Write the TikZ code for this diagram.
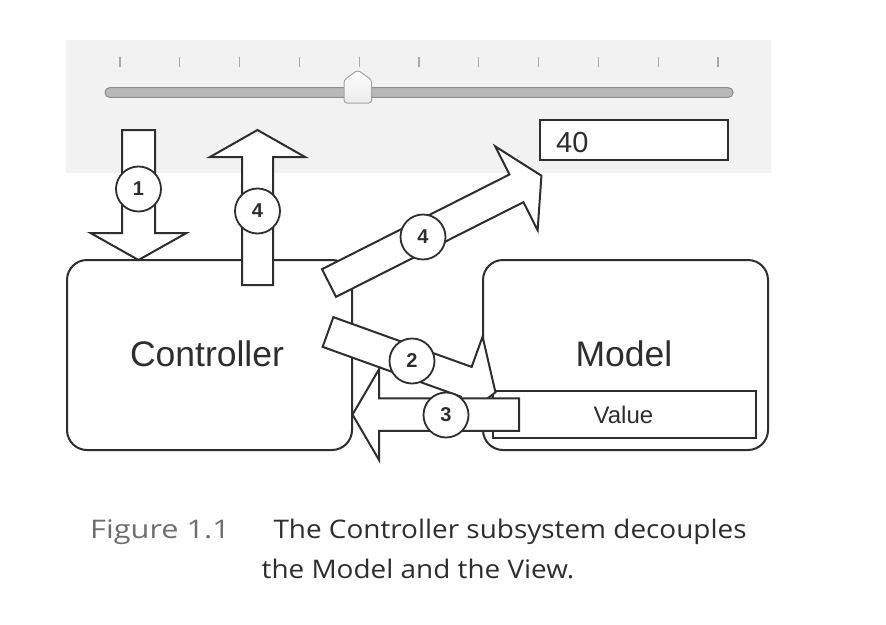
\documentclass[tikz,border=0pt]{standalone}
\usepackage{fontspec}
\setmainfont{Liberation Sans}
\newfontfamily\capfont[FakeStretch=1.09]{Open Sans}
\newfontfamily\figfont[FakeStretch=1.2]{Open Sans}
\definecolor{ink}{HTML}{2E2E2E}
\definecolor{panel}{HTML}{F2F2F2}
\definecolor{tick}{HTML}{A8A8A8}
\definecolor{trackfill}{HTML}{B9B9B9}
\definecolor{trackline}{HTML}{8C8C8C}
\definecolor{figgray}{HTML}{6E6E6E}
\tikzset{
  arrowsty/.style={draw=ink, line width=2pt, fill=white, line join=miter},
  boxsty/.style={draw=ink, line width=2pt, fill=white, rounded corners=20pt, inner sep=0pt},
  numc/.style={circle, draw=ink, line width=1.8pt, fill=white, minimum size=45pt, inner sep=0pt, font=\fontsize{20}{22}\selectfont\bfseries, text=ink},
  bigtxt/.style={font=\fontsize{35.5}{40}\selectfont, text=ink, inner sep=0pt, anchor=base},
}
\newcommand{\blockarr}[7]{%
  \begin{scope}[shift={(#1,#2)}, rotate=#3]
    \draw[arrowsty] (0,-#6) -- ({#4-#5},-#6) -- ({#4-#5},-#7) -- (#4,0) -- ({#4-#5},#7) -- ({#4-#5},#6) -- (0,#6) -- cycle;
  \end{scope}}
\begin{document}
\begin{tikzpicture}[x=1pt,y=-1pt]
\useasboundingbox (0,0) rectangle (886,624);
\fill[white] (0,0) rectangle (886,624);
% view panel
\fill[panel] (66,40) rectangle (771,173);
\foreach \i in {0,...,10} {
  \draw[tick, line width=1.3pt] ({120+59.8*\i},57) -- ({120+59.8*\i},67);
}
\draw[trackline, fill=trackfill, line width=1pt, rounded corners=4.5pt] (105,87.7) rectangle (733,97.3);
\draw[trackline!80, line width=1pt, top color=white, bottom color=black!8, rounded corners=3pt]
  (344,80) -- (357.7,70) -- (371.7,80) -- (371.7,103) -- (344,103) -- cycle;
\node[draw=ink, line width=2pt, fill=white, minimum width=188pt, minimum height=40pt, inner sep=0pt] (field) at (634,140) {};
\node[font=\fontsize{29}{32}\selectfont, text=ink, inner sep=0pt, anchor=base west] (fieldtxt) at (556,152.7) {40};
% boxes
\node[boxsty, minimum width=285pt, minimum height=190pt] (ctrl) at (209.5,355) {};
\node[boxsty, minimum width=285pt, minimum height=190pt] (model) at (625.5,355) {};
\node[draw=ink, line width=2pt, fill=white, minimum width=263pt, minimum height=47.5pt, inner sep=0pt] (value) at (624.5,414.5) {};
\node[bigtxt] (ctrltxt) at (207,366) {Controller};
\node[bigtxt] (modeltxt) at (624,366) {Model};
\node[font=\fontsize{24}{26}\selectfont, text=ink, inner sep=0pt, anchor=base] (valuetxt) at (623.4,423.3) {Value};
% arrows
\blockarr{328}{332}{-19.8}{178}{31}{15.8}{48}
\blockarr{519}{414.6}{180}{166.5}{26.5}{16.2}{45.3}
\blockarr{138.5}{130}{-90}{130}{27}{16.5}{48}
\blockarr{257.5}{285}{90}{155}{27}{15.5}{47.5}
\blockarr{329}{283}{26.8}{238}{28}{15.5}{47}
% numbers
\node[numc] (n1) at (138.5,189) {1};
\node[numc] (n4a) at (257.5,211) {4};
\node[numc] (n4b) at (423,237) {4};
\node[numc] (n2) at (412,361) {2};
\node[numc] (n3) at (446,415) {3};
% caption
\node[font=\figfont\fontsize{25.6}{28}\selectfont, text=figgray, inner sep=0pt, anchor=base west] (figlab) at (90,538.3) {Figure 1.1};
\node[font=\capfont\fontsize{25.6}{28}\selectfont, text=ink, inner sep=0pt, anchor=base west] (cap1) at (273.3,538.3) {The Controller subsystem decouples};
\node[font=\capfont\fontsize{25.6}{28}\selectfont, text=ink, inner sep=0pt, anchor=base] (cap2) at (418,578.3) {the Model and the View.};
\end{tikzpicture}
\end{document}
